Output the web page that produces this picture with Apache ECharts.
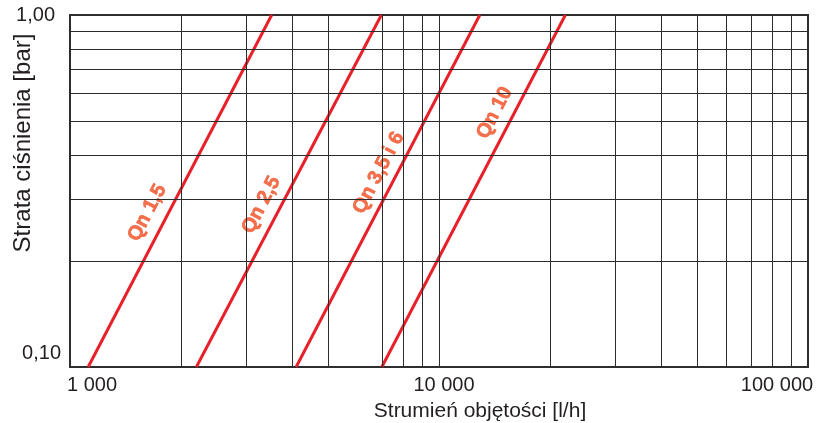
<!DOCTYPE html>
<html>
<head>
<meta charset="utf-8">
<script src="https://cdn.jsdelivr.net/npm/echarts@6/dist/echarts.min.js"></script>
<style>
html,body{margin:0;padding:0;background:#fff;}
#chart{width:832px;height:423px;}
</style>
</head>
<body>
<div id="chart"></div>
<script>
// Flow [l/h] vs pressure loss [bar] — endpoints
const seriesNames = ['Qn 1,5', 'Qn 2,5', 'Qn 3,5 i 6', 'Qn 10'];
const qn15 = [[1120, 0.1], [3520, 1.0]];
const qn25 = [[2200, 0.1], [6980, 1.0]];
const qn35 = [[4100, 0.1], [12900, 1.0]];
const qn10 = [[7000, 0.1], [22000, 1.0]];
// label anchor points (flow, pressure)
const labelAnchors = [[1620, 0.274], [3300, 0.2885], [6860, 0.356], [14150, 0.527]];
// grid lines present in the picture (6 000 is absent)
const xGrid = [2000, 3000, 4000, 5000, 7000, 8000, 9000, 10000, 20000, 30000, 40000, 50000, 60000, 70000, 80000, 90000];
const yGrid = [0.2, 0.3, 0.4, 0.5, 0.6, 0.7, 0.8, 0.9];
const xTicks = [1000, 10000, 100000];
const yTicks = [0.1, 1.0];

const lineData = [qn15, qn25, qn35, qn10];
const RED = '#e8202a';
const LABEL = '#f04e23';
const TXT = '#231f20';
const FONT = '"Liberation Sans", Arial, sans-serif';

const chart = echarts.init(document.getElementById('chart'), null, {renderer: 'canvas'});

const series = [];
series.push({
  type: 'line', data: [], z: 1, silent: true,
  markLine: {
    silent: true, symbol: 'none', animation: false,
    label: {show: false},
    lineStyle: {type: 'solid', color: '#2b2b2b', width: 1},
    data: xGrid.map(v => ({xAxis: v})).concat(yGrid.map(v => ({yAxis: v})))
  }
});
lineData.forEach((d, i) => {
  series.push({
    name: seriesNames[i], type: 'line', data: d, z: 3,
    symbol: 'none', lineStyle: {color: RED, width: 3}, silent: true
  });
});
series.push({
  type: 'scatter', z: 4, silent: true, symbolSize: 0,
  data: labelAnchors.map((p, i) => ({value: p, name: seriesNames[i]})),
  label: {
    show: true, position: 'inside', rotate: 62.5,
    formatter: p => p.name,
    color: LABEL, fontFamily: FONT, fontWeight: 'bold', fontSize: 20,
    textBorderColor: LABEL, textBorderWidth: 0.6
  }
});

function fmtX(v) {
  const s = String(Math.round(v)).replace(/\B(?=(\d{3})+(?!\d))/g, ' ');
  if (v <= xTicks[0]) return '{lo|' + s + '}';
  if (v >= xTicks[xTicks.length - 1]) return '{hi|' + s + '}';
  return '{mid|' + s + '}';
}

chart.setOption({
  animation: false,
  grid: {left: 70, right: 24, top: 15, bottom: 56, show: true, borderColor: '#2e2e2e', borderWidth: 2, containLabel: false, outerBoundsMode: 'none'},
  xAxis: {
    type: 'log', logBase: 10, min: xTicks[0], max: xTicks[xTicks.length - 1],
    name: 'Strumień objętości [l/h]', nameLocation: 'middle', nameGap: 34, nameMoveOverlap: false,
    nameTextStyle: {color: TXT, fontFamily: FONT, fontSize: 21, padding: [0, 0, 0, 82]},
    axisLine: {show: false}, axisTick: {show: false}, splitLine: {show: false},
    axisLabel: {
      color: TXT, fontFamily: FONT, fontSize: 20, margin: 8,
      formatter: fmtX,
      rich: {
        lo: {fontFamily: FONT, fontSize: 20, color: TXT, padding: [0, 0, 0, 44]},
        mid: {fontFamily: FONT, fontSize: 20, color: TXT, padding: [0, 0, 0, 10]},
        hi: {fontFamily: FONT, fontSize: 20, color: TXT, padding: [0, 62, 0, 0]}
      }
    }
  },
  yAxis: {
    type: 'log', logBase: 10, min: yTicks[0], max: yTicks[yTicks.length - 1],
    name: 'Strata ciśnienia [bar]', nameLocation: 'middle', nameGap: 35, nameMoveOverlap: false,
    nameTextStyle: {color: TXT, fontFamily: FONT, fontSize: 24, padding: [0, 0, 0, 96]},
    axisLine: {show: false}, axisTick: {show: false}, splitLine: {show: false},
    axisLabel: {
      color: TXT, fontFamily: FONT, fontSize: 20, margin: 9,
      formatter: v => v < 0.5 ? '{lo|' + v.toFixed(2).replace('.', ',') + '}' : '{hi|' + v.toFixed(2).replace('.', ',') + '}',
      rich: {
        lo: {fontFamily: FONT, fontSize: 20, color: TXT, padding: [0, 0, 28, 0]},
        hi: {fontFamily: FONT, fontSize: 20, color: TXT, padding: [0, 6, 0, 0]}
      }
    }
  },
  series: series
});
</script>
</body>
</html>
